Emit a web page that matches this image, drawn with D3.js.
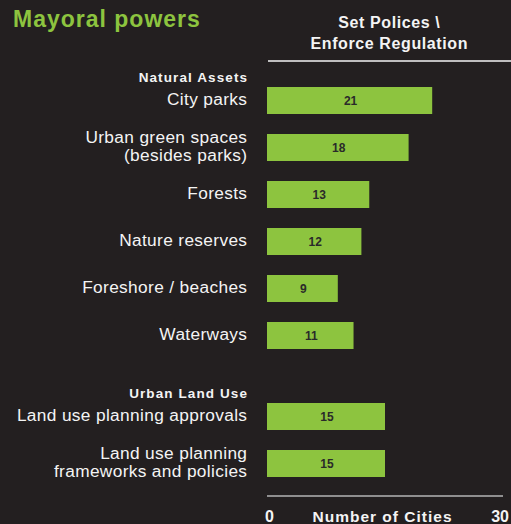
<!DOCTYPE html>
<html>
<head>
<meta charset="utf-8">
<script src="https://cdn.jsdelivr.net/npm/d3@7"></script>
<style>
  html, body { margin: 0; padding: 0; background: #231f20; }
  svg { display: block; font-family: "Liberation Sans", Arial, Helvetica, sans-serif; }
</style>
</head>
<body>
<svg id="chart" width="511" height="524"></svg>
<script>
// Mayoral powers: number of cities that can set policies / enforce regulation
const groups = ["Natural Assets", "Urban Land Use"];
const categories = [
  ["City parks"],
  ["Urban green spaces", "(besides parks)"],
  ["Forests"],
  ["Nature reserves"],
  ["Foreshore / beaches"],
  ["Waterways"],
  ["Land use planning approvals"],
  ["Land use planning", "frameworks and policies"]
];
const categoryGroup = [0, 0, 0, 0, 0, 0, 1, 1];
const values = [21, 18, 13, 12, 9, 11, 15, 15];
const axisDomain = [0, 30];
const axisTickLabels = ["0", "30"];
const axisTitle = "Number of Cities";
const chartTitle = "Mayoral powers";
const columnTitle = ["Set Polices \\", "Enforce Regulation"];

const GREEN = "#8dc43f";
const TEXT = "#f4f4f4";
const svg = d3.select("#chart");

const x = d3.scaleLinear().domain(axisDomain).range([267, 503]);

// rows are spaced evenly; each new group after the first adds extra room for its heading
const rowStep = 47, groupGap = 34, barH = 27, firstRowY = 87;
const y = i => firstRowY + i * rowStep + categoryGroup[i] * groupGap;
const labelRight = 247;

// title
svg.append("text")
  .attr("x", 13).attr("y", 27.3)
  .attr("fill", GREEN)
  .attr("font-size", 23).attr("font-weight", "bold")
  .attr("letter-spacing", 1.0)
  .text(chartTitle);

// column heading and rule (letter-spacing leaves a trailing gap, so shift by half of it)
svg.selectAll("text.col").data(columnTitle).join("text")
  .attr("class", "col")
  .attr("x", 389 + 0.3).attr("y", (d, i) => 27.7 + i * 21)
  .attr("text-anchor", "middle")
  .attr("fill", TEXT)
  .attr("font-size", 16).attr("font-weight", "bold")
  .attr("letter-spacing", 0.6)
  .text(d => d);
svg.append("line")
  .attr("x1", 268).attr("x2", 511).attr("y1", 61).attr("y2", 61)
  .attr("stroke", TEXT).attr("stroke-width", 1.3);

// group headings
const firstIndex = groups.map((g, gi) => categoryGroup.indexOf(gi));
svg.selectAll("text.group").data(groups).join("text")
  .attr("class", "group")
  .attr("x", labelRight + 1.1).attr("y", (d, gi) => y(firstIndex[gi]) - 4.8)
  .attr("text-anchor", "end")
  .attr("fill", TEXT)
  .attr("font-size", 13.5).attr("font-weight", "bold")
  .attr("letter-spacing", 1.1)
  .text(d => d);

// bars
const rows = values.map((v, i) => ({ v, i, label: categories[i] }));
svg.selectAll("rect.bar").data(rows).join("rect")
  .attr("class", "bar")
  .attr("x", x(0)).attr("y", d => y(d.i))
  .attr("width", d => x(d.v) - x(0)).attr("height", barH)
  .attr("fill", GREEN);

// value labels
svg.selectAll("text.val").data(rows).join("text")
  .attr("class", "val")
  .attr("x", d => (x(0) + x(d.v)) / 2 + 1)
  .attr("y", d => y(d.i) + barH / 2 + 4.3)
  .attr("text-anchor", "middle")
  .attr("fill", "#2a2a2a")
  .attr("font-size", 12).attr("font-weight", "bold")
  .text(d => d.v);

// category labels
const lab = svg.selectAll("text.cat").data(rows).join("text")
  .attr("class", "cat")
  .attr("text-anchor", "end")
  .attr("fill", TEXT)
  .attr("font-size", 17.3)
  .attr("letter-spacing", 0.35);
lab.each(function (d) {
  const t = d3.select(this);
  const cy = y(d.i) + barH / 2;
  const n = d.label.length;
  d.label.forEach((line, k) => {
    t.append("tspan")
      .attr("x", labelRight + 0.35)
      .attr("y", cy + 4.6 + (k - (n - 1) / 2) * 18.5)
      .text(line);
  });
});

// bottom axis
svg.append("line")
  .attr("x1", x(axisDomain[0])).attr("x2", x(axisDomain[1]))
  .attr("y1", 496).attr("y2", 496)
  .attr("stroke", "#b4b4b4").attr("stroke-width", 1.5);
svg.selectAll("text.tick").data(axisDomain).join("text")
  .attr("class", "tick")
  .attr("x", (d, i) => x(d) + (i === 0 ? -2 : 6))
  .attr("y", 521.7)
  .attr("text-anchor", (d, i) => i === 0 ? "start" : "end")
  .attr("fill", TEXT)
  .attr("font-size", 16).attr("font-weight", "bold")
  .text((d, i) => axisTickLabels[i]);
svg.append("text")
  .attr("x", 382 + 0.5).attr("y", 521.7)
  .attr("text-anchor", "middle")
  .attr("fill", TEXT)
  .attr("font-size", 15.5).attr("font-weight", "bold")
  .attr("letter-spacing", 1.0)
  .text(axisTitle);
</script>
</body>
</html>
